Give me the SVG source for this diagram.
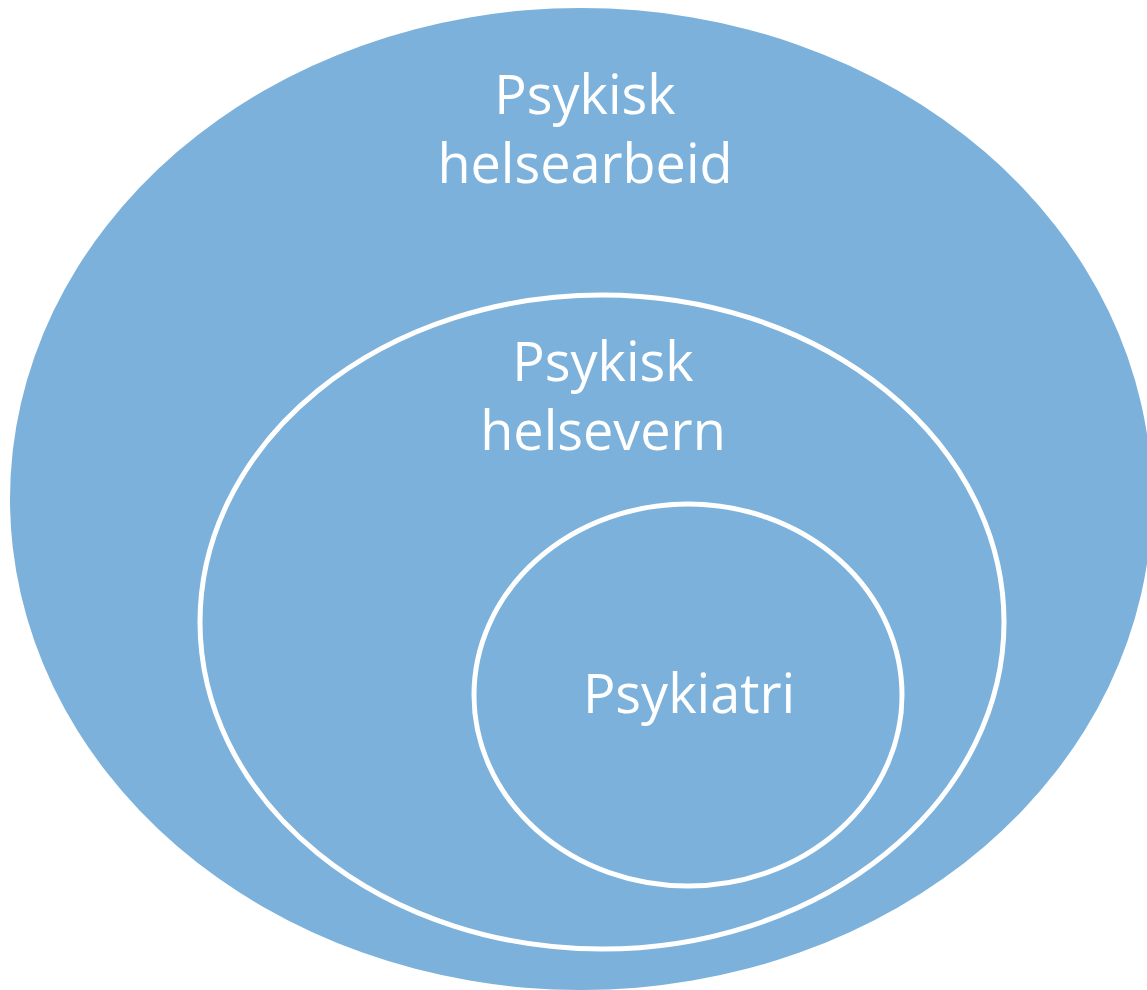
<svg xmlns="http://www.w3.org/2000/svg" width="1147" height="990" viewBox="0 0 1147 990">
<style>
.lbl{font-family:"Open Sans","Noto Sans",sans-serif;font-size:54px;fill:#ffffff;text-anchor:middle}
.ring{fill:#7BB1DA;stroke:#ffffff;stroke-width:5}
</style>
<rect width="1147" height="990" fill="#ffffff"/>
<g id="outer">
<ellipse cx="581" cy="499" rx="571" ry="491" fill="#7BB1DA"/>
<text class="lbl" x="585" y="114">Psykisk</text>
<text class="lbl" x="585" y="183">helsearbeid</text>
</g>
<g id="middle">
<ellipse class="ring" cx="602" cy="622" rx="402" ry="327"/>
<text class="lbl" x="603" y="381">Psykisk</text>
<text class="lbl" x="603" y="450">helsevern</text>
</g>
<g id="inner">
<ellipse class="ring" cx="688" cy="695" rx="214" ry="191"/>
<text class="lbl" x="689" y="713">Psykiatri</text>
</g>
<g id="connectors"/>
</svg>
